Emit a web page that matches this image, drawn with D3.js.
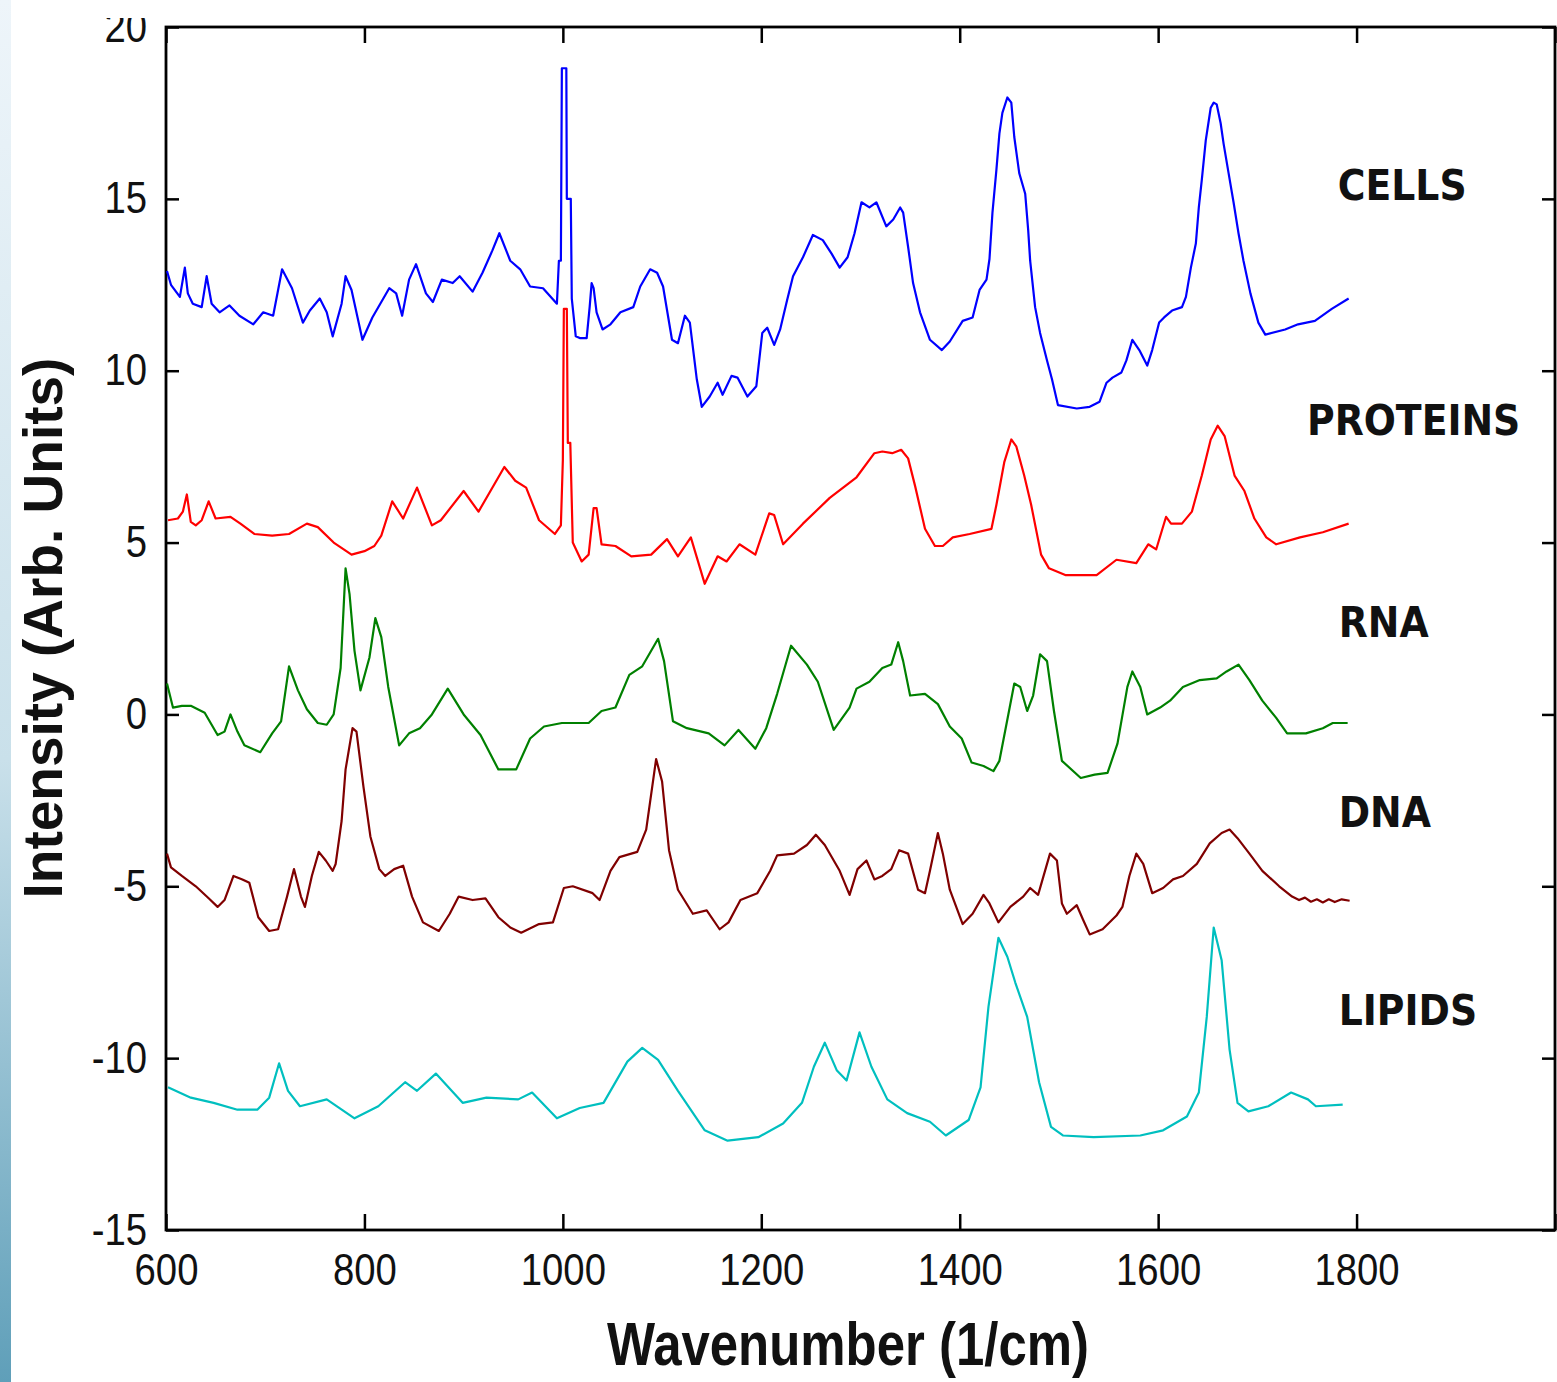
<!DOCTYPE html>
<html>
<head>
<meta charset="utf-8">
<script src="https://cdn.jsdelivr.net/npm/d3@7"></script>
<style>
  html, body { margin: 0; padding: 0; background: #ffffff; }
  svg { display: block; }
</style>
</head>
<body>
<svg id="chart" width="1557" height="1382"></svg>
<script>
// ---- Raman spectra, offset vertically per sample: [wavenumber (1/cm), intensity] ----
const seriesNames = ["CELLS", "PROTEINS", "RNA", "DNA", "LIPIDS"];

const cells = [[601,12.9],[605,12.5],[614,12.15],[619,13.0],[622,12.25],[627,11.95],[636,11.85],[641,12.75],[646,11.95],[654,11.7],[664,11.9],[674,11.6],[688,11.35],[698,11.7],[708,11.6],[717,12.95],[727,12.4],[738,11.4],[745,11.75],[755,12.1],[762,11.7],[768,11.0],[777,11.95],[781,12.75],[787,12.35],[798,10.9],[808,11.55],[825,12.4],[832,12.25],[838,11.6],[845,12.65],[852,13.1],[862,12.25],[869,12.0],[878,12.65],[889,12.55],[896,12.75],[909,12.3],[919,12.85],[929,13.5],[936,14.0],[947,13.2],[957,12.95],[967,12.45],[980,12.4],[994,11.95],[996,13.2],[998,13.2],[999,18.8],[1003.5,18.8],[1004,15.0],[1008,15.0],[1009,12.1],[1013,11.0],[1017,10.95],[1024,10.95],[1027,11.85],[1029,12.55],[1031,12.4],[1034,11.7],[1040,11.2],[1048,11.35],[1058,11.7],[1071,11.85],[1078,12.45],[1088,12.95],[1095,12.85],[1101,12.45],[1110,10.9],[1116,10.8],[1123,11.6],[1128,11.4],[1135,9.75],[1140,8.95],[1148,9.25],[1156,9.65],[1161,9.3],[1170,9.85],[1176,9.8],[1186,9.25],[1195,9.55],[1201,11.1],[1206,11.25],[1213,10.75],[1219,11.2],[1226,12.05],[1232,12.75],[1242,13.3],[1252,13.95],[1262,13.8],[1271,13.4],[1279,13.0],[1287,13.3],[1294,14.0],[1301,14.9],[1309,14.75],[1316,14.9],[1326,14.2],[1333,14.4],[1340,14.75],[1343,14.6],[1348,13.6],[1353,12.55],[1360,11.7],[1370,10.9],[1382,10.6],[1390,10.85],[1403,11.45],[1413,11.55],[1420,12.35],[1427,12.65],[1430,13.25],[1433,14.6],[1437,15.85],[1440,16.9],[1443,17.5],[1448,17.95],[1452,17.8],[1455,16.8],[1460,15.75],[1466,15.15],[1469,14.1],[1471,13.2],[1476,11.85],[1481,11.1],[1488,10.3],[1493,9.75],[1499,9.0],[1518,8.9],[1531,8.95],[1541,9.1],[1548,9.65],[1554,9.8],[1563,9.95],[1568,10.3],[1574,10.9],[1581,10.6],[1589,10.15],[1594,10.6],[1601,11.4],[1606,11.55],[1614,11.75],[1624,11.85],[1628,12.15],[1633,13.0],[1638,13.7],[1641,14.75],[1644,15.55],[1648,16.7],[1653,17.65],[1656,17.8],[1659,17.75],[1663,17.2],[1666,16.6],[1671,15.75],[1676,14.9],[1681,14.0],[1686,13.2],[1693,12.25],[1701,11.4],[1708,11.05],[1728,11.2],[1741,11.35],[1758,11.45],[1775,11.8],[1792,12.1]];

const proteins = [[602,5.65],[612,5.7],[617,5.9],[621,6.4],[625,5.6],[630,5.5],[636,5.65],[643,6.2],[650,5.7],[665,5.75],[675,5.55],[689,5.25],[707,5.2],[724,5.25],[742,5.55],[753,5.45],[769,5.0],[787,4.65],[800,4.75],[810,4.9],[817,5.2],[828,6.2],[839,5.7],[853,6.6],[868,5.5],[877,5.65],[900,6.5],[915,5.9],[941,7.2],[952,6.8],[963,6.6],[976,5.65],[992,5.25],[998,5.5],[1000,7.4],[1001,11.8],[1004,11.8],[1005,7.9],[1007.5,7.9],[1010,5.0],[1019,4.45],[1026,4.65],[1031,6.0],[1034,6.0],[1039,4.95],[1053,4.9],[1069,4.6],[1089,4.65],[1105,5.1],[1116,4.6],[1129,5.15],[1143,3.8],[1156,4.6],[1165,4.45],[1178,4.95],[1194,4.65],[1208,5.85],[1213,5.8],[1222,4.95],[1242,5.55],[1269,6.3],[1296,6.9],[1314,7.6],[1322,7.65],[1332,7.6],[1341,7.7],[1348,7.45],[1355,6.65],[1365,5.4],[1375,4.9],[1383,4.9],[1393,5.15],[1410,5.25],[1432,5.4],[1437,6.1],[1445,7.35],[1452,8.0],[1457,7.8],[1465,6.95],[1472,6.1],[1482,4.65],[1490,4.25],[1507,4.05],[1538,4.05],[1558,4.5],[1578,4.4],[1590,4.95],[1598,4.8],[1608,5.75],[1613,5.55],[1624,5.55],[1634,5.9],[1644,6.95],[1653,8.0],[1660,8.4],[1667,8.1],[1677,6.95],[1687,6.5],[1697,5.7],[1709,5.15],[1719,4.95],[1743,5.15],[1766,5.3],[1792,5.55]];

const rna = [[601,0.9],[607,0.2],[616,0.25],[625,0.25],[639,0.05],[652,-0.6],[659,-0.5],[665,0.0],[672,-0.5],[679,-0.9],[695,-1.1],[707,-0.55],[716,-0.2],[724,1.4],[733,0.7],[742,0.15],[753,-0.25],[762,-0.3],[769,0.0],[776,1.35],[781,4.25],[785,3.5],[790,1.85],[796,0.7],[805,1.65],[811,2.8],[817,2.25],[824,0.8],[835,-0.9],[845,-0.55],[856,-0.4],[868,0.0],[884,0.75],[900,0.0],[917,-0.6],[935,-1.6],[953,-1.6],[967,-0.7],[981,-0.35],[999,-0.25],[1026,-0.25],[1039,0.1],[1053,0.2],[1067,1.15],[1080,1.4],[1096,2.2],[1102,1.55],[1111,-0.2],[1125,-0.4],[1147,-0.55],[1163,-0.9],[1177,-0.45],[1194,-1.0],[1205,-0.4],[1216,0.6],[1230,2.0],[1246,1.45],[1257,0.95],[1273,-0.45],[1289,0.2],[1296,0.75],[1309,0.95],[1322,1.35],[1331,1.45],[1338,2.1],[1343,1.55],[1350,0.55],[1365,0.6],[1378,0.3],[1390,-0.35],[1402,-0.7],[1412,-1.4],[1424,-1.5],[1434,-1.65],[1440,-1.35],[1449,0.0],[1455,0.9],[1461,0.8],[1468,0.1],[1474,0.55],[1481,1.75],[1488,1.55],[1495,0.1],[1503,-1.35],[1522,-1.85],[1536,-1.75],[1549,-1.7],[1559,-0.85],[1569,0.8],[1574,1.25],[1582,0.8],[1589,0.0],[1602,0.2],[1612,0.4],[1625,0.8],[1642,1.0],[1659,1.05],[1669,1.25],[1681,1.45],[1692,1.0],[1705,0.4],[1719,-0.1],[1730,-0.55],[1749,-0.55],[1766,-0.4],[1776,-0.25],[1791,-0.25]];

const dna = [[601,-4.05],[605,-4.45],[616,-4.7],[630,-5.0],[643,-5.35],[652,-5.6],[659,-5.4],[668,-4.7],[677,-4.8],[684,-4.9],[693,-5.9],[704,-6.3],[713,-6.25],[722,-5.3],[729,-4.5],[736,-5.3],[740,-5.6],[747,-4.7],[754,-4.0],[761,-4.25],[768,-4.55],[771,-4.35],[777,-3.1],[781,-1.6],[788,-0.4],[792,-0.5],[799,-2.1],[806,-3.55],[815,-4.5],[821,-4.7],[830,-4.5],[839,-4.4],[848,-5.3],[859,-6.05],[875,-6.3],[886,-5.8],[895,-5.3],[909,-5.4],[922,-5.35],[935,-5.9],[947,-6.2],[958,-6.35],[976,-6.1],[990,-6.05],[1001,-5.05],[1010,-5.0],[1030,-5.2],[1037,-5.4],[1048,-4.55],[1057,-4.15],[1075,-4.0],[1084,-3.35],[1094,-1.3],[1100,-1.95],[1107,-3.95],[1116,-5.1],[1131,-5.8],[1145,-5.7],[1158,-6.25],[1167,-6.05],[1179,-5.4],[1196,-5.2],[1209,-4.55],[1216,-4.1],[1233,-4.05],[1246,-3.8],[1255,-3.5],[1264,-3.8],[1279,-4.55],[1289,-5.25],[1297,-4.5],[1306,-4.25],[1314,-4.8],[1322,-4.7],[1331,-4.5],[1339,-3.95],[1348,-4.05],[1358,-5.1],[1365,-5.2],[1370,-4.55],[1378,-3.45],[1383,-4.05],[1390,-5.1],[1403,-6.1],[1413,-5.8],[1424,-5.25],[1430,-5.5],[1439,-6.05],[1451,-5.6],[1464,-5.3],[1471,-5.05],[1479,-5.25],[1491,-4.05],[1498,-4.25],[1503,-5.5],[1508,-5.8],[1518,-5.55],[1524,-5.95],[1531,-6.4],[1544,-6.25],[1558,-5.85],[1564,-5.6],[1571,-4.7],[1578,-4.05],[1585,-4.35],[1594,-5.2],[1605,-5.05],[1615,-4.8],[1625,-4.7],[1639,-4.35],[1652,-3.75],[1664,-3.45],[1672,-3.35],[1680,-3.6],[1692,-4.05],[1705,-4.55],[1722,-5.0],[1735,-5.3],[1742,-5.4],[1748,-5.33],[1754,-5.45],[1760,-5.38],[1766,-5.47],[1772,-5.38],[1778,-5.46],[1785,-5.38],[1793,-5.42]];

const lipids = [[602,-10.85],[625,-11.15],[648,-11.3],[672,-11.5],[692,-11.5],[704,-11.15],[714,-10.15],[723,-10.95],[735,-11.4],[762,-11.2],[790,-11.75],[814,-11.4],[841,-10.7],[853,-10.95],[872,-10.45],[899,-11.3],[923,-11.15],[955,-11.2],[969,-11.0],[994,-11.75],[1017,-11.45],[1041,-11.3],[1065,-10.1],[1080,-9.7],[1096,-10.05],[1116,-10.95],[1143,-12.1],[1166,-12.4],[1197,-12.3],[1222,-11.9],[1241,-11.3],[1253,-10.25],[1264,-9.55],[1276,-10.35],[1286,-10.65],[1299,-9.25],[1311,-10.25],[1327,-11.2],[1347,-11.6],[1370,-11.85],[1386,-12.25],[1409,-11.8],[1421,-10.85],[1429,-8.5],[1439,-6.5],[1448,-7.05],[1456,-7.8],[1468,-8.8],[1480,-10.7],[1492,-12.0],[1504,-12.25],[1535,-12.3],[1582,-12.25],[1605,-12.1],[1629,-11.7],[1641,-11.0],[1649,-8.8],[1656,-6.2],[1664,-7.15],[1672,-9.75],[1680,-11.3],[1691,-11.55],[1711,-11.4],[1734,-11.0],[1751,-11.2],[1759,-11.4],[1786,-11.35]];

const xTicks = [600, 800, 1000, 1200, 1400, 1600, 1800, 2000];
const xTickLabels = ["600", "800", "1000", "1200", "1400", "1600", "1800", ""];
const yTicks = [-15, -10, -5, 0, 5, 10, 15, 20];
const yTickLabels = ["-15", "-10", "-5", "0", "5", "10", "15", "20"];

// ---- layout ----
const W = 1557, H = 1382;
const plot = { left: 166, right: 1555, top: 27, bottom: 1230 };
const narrow = 0.87;   // horizontal squeeze for the tick labels

const svg = d3.select("#chart");

// soft blue strip along the page's left edge
const defs = svg.append("defs");
const grad = defs.append("linearGradient").attr("id", "edgeStrip")
  .attr("x1", 0).attr("y1", 0).attr("x2", 0).attr("y2", 1);
grad.append("stop").attr("offset", "0%").attr("stop-color", "#eef5fa");
grad.append("stop").attr("offset", "55%").attr("stop-color", "#c9e0ea");
grad.append("stop").attr("offset", "100%").attr("stop-color", "#5f9fb9");
svg.append("rect").attr("x", 0).attr("y", 0).attr("width", 11).attr("height", H)
  .attr("fill", "url(#edgeStrip)");

// the top tick label is trimmed at the page edge (clip in page coordinates)
defs.append("clipPath").attr("id", "labelClip").attr("clipPathUnits", "userSpaceOnUse")
  .append("rect").attr("x", -W).attr("y", 18).attr("width", 3 * W).attr("height", H);

const x = d3.scaleLinear().domain([600, 2000]).range([plot.left, plot.right]);
const y = d3.scaleLinear().domain([-15, 20]).range([plot.bottom, plot.top]);

const tickFont = "'Liberation Sans', Arial, Helvetica, sans-serif";

function styleAxis(g) {
  g.select(".domain").remove();
  g.selectAll(".tick line").attr("stroke", "#000").attr("stroke-width", 2.5);
  g.selectAll(".tick text")
    .attr("fill", "#111")
    .style("font-family", tickFont)
    .style("font-size", "44px")
    .each(function () {
      const t = d3.select(this);
      const x0 = +t.attr("x") || 0;
      t.attr("x", x0 / narrow).attr("transform", `scale(${narrow},1)`);
    });
}

// bottom axis with labels
svg.append("g").attr("transform", `translate(0,${plot.bottom})`)
  .call(d3.axisBottom(x).tickValues(xTicks).tickSize(-16).tickSizeOuter(0).tickPadding(24)
    .tickFormat((d, i) => xTickLabels[i]))
  .call(styleAxis);

// top axis, ticks only
svg.append("g").attr("transform", `translate(0,${plot.top})`)
  .call(d3.axisTop(x).tickValues(xTicks).tickSize(-16).tickSizeOuter(0).tickFormat(""))
  .call(styleAxis);

// left axis with labels
svg.append("g").attr("transform", `translate(${plot.left},0)`)
  .attr("clip-path", "url(#labelClip)")
  .call(d3.axisLeft(y).tickValues(yTicks).tickSize(-13).tickSizeOuter(0).tickPadding(19)
    .tickFormat((d, i) => yTickLabels[i]))
  .call(styleAxis);

// right axis, ticks only
svg.append("g").attr("transform", `translate(${plot.right},0)`)
  .call(d3.axisRight(y).tickValues(yTicks).tickSize(-13).tickSizeOuter(0).tickFormat(""))
  .call(styleAxis);

// plot frame
svg.append("rect")
  .attr("x", plot.left).attr("y", plot.top)
  .attr("width", plot.right - plot.left).attr("height", plot.bottom - plot.top)
  .attr("fill", "none").attr("stroke", "#000").attr("stroke-width", 2.8);

// spectra
const spectra = [cells, proteins, rna, dna, lipids];
const colors = ["#0000ff", "#ff0000", "#008000", "#800000", "#00bfbf"];
const line = d3.line().x(d => x(d[0])).y(d => y(d[1]));

svg.append("g").selectAll("path")
  .data(spectra)
  .join("path")
  .attr("d", line)
  .attr("fill", "none")
  .attr("stroke", (d, i) => colors[i])
  .attr("stroke-width", 2.2)
  .attr("stroke-linejoin", "round");

// sample names beside each trace (anchor in data units)
const labelAnchors = [[1781, 14.97], [1750, 8.13], [1782, 2.25], [1782, -3.28], [1782, -9.04]];
svg.append("g").selectAll("text")
  .data(seriesNames)
  .join("text")
  .attr("x", (d, i) => x(labelAnchors[i][0]))
  .attr("y", (d, i) => y(labelAnchors[i][1]))
  .text(d => d)
  .attr("fill", "#111")
  .style("font-family", "'DejaVu Sans Condensed', 'DejaVu Sans', sans-serif")
  .style("font-stretch", "condensed")
  .style("font-weight", "bold")
  .style("font-size", "42px");

// axis titles
const xTitleSqueeze = 0.835;
svg.append("text")
  .attr("transform", `translate(848,1365) scale(${xTitleSqueeze},1)`)
  .attr("text-anchor", "middle")
  .style("font-family", "'Liberation Sans', Arial, sans-serif")
  .style("font-weight", "bold")
  .style("font-size", "61px")
  .attr("fill", "#111")
  .text("Wavenumber (1/cm)");

svg.append("text")
  .attr("transform", "translate(62,628) rotate(-90)")
  .attr("text-anchor", "middle")
  .style("font-family", "'Liberation Sans', Arial, sans-serif")
  .style("font-weight", "bold")
  .style("font-size", "55px")
  .attr("fill", "#111")
  .text("Intensity (Arb. Units)");
</script>
</body>
</html>
